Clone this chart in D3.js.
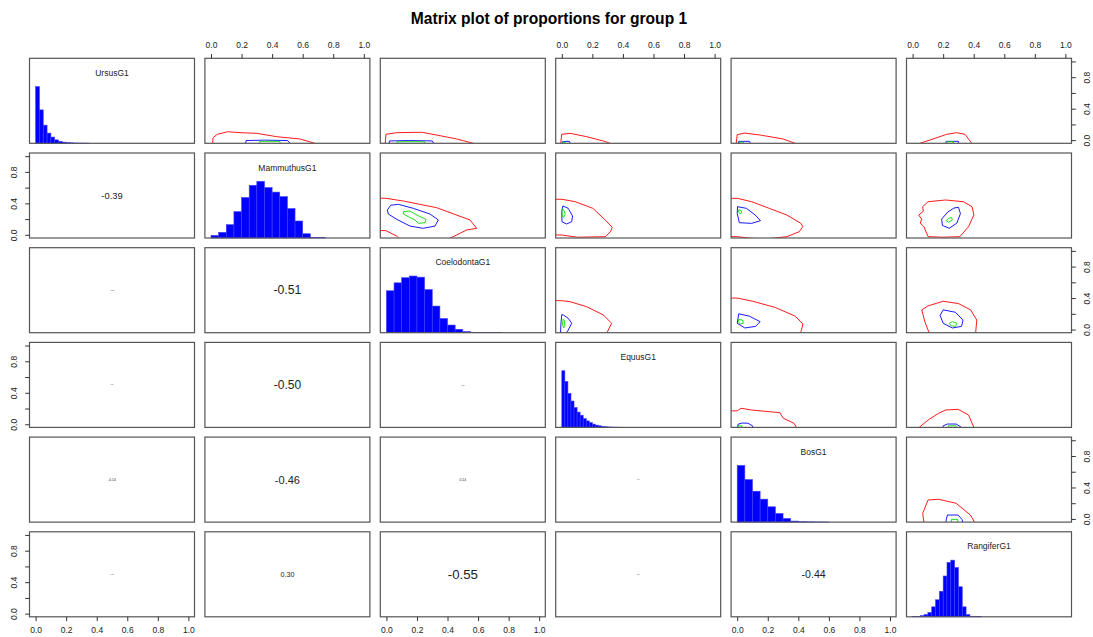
<!DOCTYPE html>
<html>
<head>
<meta charset="utf-8">
<script src="https://cdn.jsdelivr.net/npm/d3@7"></script>
<style>
  html, body { margin: 0; padding: 0; background: #fff; }
  svg { display: block; font-family: "Liberation Sans", Arial, sans-serif; }
</style>
</head>
<body>
<div id="chart"></div>
<script>
// ---- data ----
const title = "Matrix plot of proportions for group 1";
const variables = ["UrsusG1", "MammuthusG1", "CoelodontaG1", "EquusG1", "BosG1", "RangiferG1"];
const tickValues = [0, 0.2, 0.4, 0.6, 0.8, 1.0];
const yLabelValues = [0, 0.4, 0.8];

// histogram bin width and relative counts (count / max count), one per variable
const histBinWidth = [0.025, 0.05, 0.05, 0.02, 0.05, 0.025];
const histHeights = [
  [1.0, 0.59, 0.32, 0.18, 0.11, 0.06, 0.035, 0.02, 0.012, 0.008, 0.005, 0.004, 0.003, 0.002],
  [0.046, 0.1, 0.235, 0.465, 0.715, 0.93, 1.0, 0.89, 0.81, 0.73, 0.52, 0.3, 0.075, 0.012, 0.006],
  [0.74, 0.88, 0.97, 1.0, 0.98, 0.76, 0.47, 0.25, 0.135, 0.06, 0.02, 0.006, 0.004, 0.003, 0.002],
  [1.0, 0.81, 0.6, 0.465, 0.35, 0.27, 0.215, 0.155, 0.115, 0.085, 0.058, 0.04, 0.028, 0.018, 0.012, 0.008, 0.005, 0.004, 0.003, 0.002],
  [1.0, 0.75, 0.545, 0.405, 0.27, 0.153, 0.065, 0.018, 0.007, 0.004, 0.002, 0.001],
  [0.002, 0.004, 0.02, 0.04, 0.076, 0.176, 0.3, 0.45, 0.72, 0.96, 1.0, 0.87, 0.53, 0.176, 0.04, 0.01, 0.004, 0.002]
];

// lower panels: [row, col, correlation]
const correlations = [
  [1, 0, -0.39],
  [2, 0, -0.08], [2, 1, -0.51],
  [3, 0, 0.06], [3, 1, -0.50], [3, 2, 0.07],
  [4, 0, -0.14], [4, 1, -0.46], [4, 2, 0.14], [4, 3, 0.05],
  [5, 0, 0.07], [5, 1, 0.30], [5, 2, -0.55], [5, 3, 0.06], [5, 4, -0.44]
];

// upper panels: x = variable col, y = variable row
const upperPairs = [[0, 1], [0, 2], [0, 3], [0, 4], [0, 5], [1, 2], [1, 3], [1, 4], [1, 5], [2, 3], [2, 4], [2, 5], [3, 4], [3, 5], [4, 5]];

// density contours (outer / middle / inner), same order as upperPairs
const contourRed = [
  [[0.011, -0.1], [0.011, -0.04], [0.013, 0.03], [0.041, 0.074], [0.109, 0.107], [0.19, 0.095], [0.299, 0.087], [0.43, 0.044], [0.582, 0.015], [0.68, -0.04], [0.7, -0.1]],
  [[-0.01, -0.1], [-0.003, 0.074], [0.067, 0.095], [0.231, 0.1], [0.329, 0.065], [0.46, 0.015], [0.569, -0.04], [0.58, -0.1]],
  [[-0.01, -0.1], [-0.001, 0.074], [0.054, 0.087], [0.163, 0.044], [0.272, -0.011], [0.316, -0.04], [0.33, -0.1]],
  [[-0.01, -0.1], [0.0, 0.07], [0.05, 0.09], [0.15, 0.065], [0.3, 0.015], [0.38, -0.04], [0.39, -0.1]],
  [[0.04, -0.1], [0.048, -0.04], [0.114, 0.002], [0.223, 0.074], [0.289, 0.095], [0.343, 0.074], [0.371, 0.002], [0.387, -0.04], [0.39, -0.1]],
  [[-0.1, 0.47], [-0.003, 0.464], [0.111, 0.43], [0.329, 0.345], [0.547, 0.189], [0.591, 0.083], [0.525, 0.062], [0.46, -0.002], [0.351, -0.1], [0.111, -0.1], [0.067, -0.015], [-0.003, 0.053], [-0.1, 0.06]],
  [[-0.1, 0.452], [0.001, 0.452], [0.088, 0.421], [0.203, 0.337], [0.285, 0.188], [0.33, 0.096], [0.319, 0.04], [0.285, -0.023], [0.1, -0.03], [0.0, -0.002], [-0.1, 0.0]],
  [[-0.1, 0.464], [0.002, 0.464], [0.094, 0.421], [0.21, 0.337], [0.325, 0.252], [0.417, 0.146], [0.429, 0.104], [0.406, 0.04], [0.325, -0.023], [0.2, -0.05], [0.094, -0.044], [0.002, -0.023], [-0.1, -0.02]],
  [[0.066, 0.358], [0.101, 0.421], [0.216, 0.443], [0.332, 0.421], [0.389, 0.358], [0.401, 0.252], [0.366, 0.104], [0.309, -0.023], [0.2, -0.03], [0.101, -0.023], [0.075, 0.1], [0.05, 0.15], [0.06, 0.2], [0.04, 0.25], [0.07, 0.3]],
  [[-0.1, 0.367], [0.0, 0.367], [0.054, 0.354], [0.163, 0.29], [0.272, 0.185], [0.326, 0.08], [0.304, -0.006], [0.283, -0.1], [-0.1, -0.1]],
  [[-0.1, 0.4], [0.0, 0.4], [0.1, 0.36], [0.25, 0.28], [0.38, 0.17], [0.43, 0.07], [0.42, -0.01], [0.4, -0.1], [-0.1, -0.1]],
  [[0.06, 0.25], [0.1, 0.3], [0.2, 0.36], [0.3, 0.33], [0.38, 0.25], [0.42, 0.12], [0.41, -0.1], [0.12, -0.1], [0.08, 0.1]],
  [[-0.1, 0.17], [0.0, 0.17], [0.025, 0.203], [0.094, 0.181], [0.279, 0.147], [0.302, 0.076], [0.372, 0.012], [0.406, -0.1], [-0.1, -0.1]],
  [[0.04, -0.1], [0.043, -0.04], [0.101, 0.054], [0.17, 0.139], [0.216, 0.181], [0.297, 0.19], [0.366, 0.118], [0.401, -0.04], [0.41, -0.1]],
  [[0.078, -0.1], [0.066, 0.072], [0.101, 0.241], [0.17, 0.25], [0.285, 0.199], [0.378, 0.05], [0.424, -0.1]]
];
const contourBlue = [
  [[0.22, -0.1], [0.23, -0.005], [0.35, 0.0], [0.5, -0.005], [0.55, -0.1]],
  [[0.012, -0.1], [0.02, -0.01], [0.15, -0.005], [0.3, -0.01], [0.329, -0.1]],
  [[-0.001, -0.1], [0.005, -0.017], [0.05, -0.015], [0.065, -0.1]],
  [[0.0, -0.1], [0.01, -0.015], [0.08, -0.015], [0.1, -0.1]],
  [[0.212, -0.1], [0.22, -0.015], [0.3, -0.015], [0.306, -0.1]],
  [[0.006, 0.316], [0.028, 0.376], [0.078, 0.388], [0.176, 0.337], [0.285, 0.265], [0.34, 0.189], [0.318, 0.112], [0.241, 0.083], [0.154, 0.112], [0.067, 0.198], [0.012, 0.265]],
  [[0.007, 0.367], [0.042, 0.337], [0.07, 0.24], [0.065, 0.167], [0.031, 0.138], [0.001, 0.167], [0.0, 0.3]],
  [[0.002, 0.358], [0.06, 0.337], [0.118, 0.252], [0.152, 0.18], [0.094, 0.146], [0.014, 0.154], [0.0, 0.273]],
  [[0.3, 0.35], [0.313, 0.27], [0.29, 0.15], [0.24, 0.083], [0.195, 0.12], [0.19, 0.2], [0.23, 0.29], [0.27, 0.34]],
  [[0.0, 0.19], [0.01, 0.185], [0.042, 0.143], [0.065, 0.08], [0.042, -0.006], [0.01, -0.1], [-0.01, -0.1], [-0.005, 0.1]],
  [[0.01, 0.2], [0.08, 0.17], [0.15, 0.1], [0.12, 0.04], [0.05, 0.02], [0.0, 0.08]],
  [[0.2, 0.25], [0.28, 0.22], [0.33, 0.12], [0.32, 0.04], [0.26, 0.02], [0.2, 0.08], [0.18, 0.18]],
  [[0.0, -0.1], [0.005, 0.0], [0.03, 0.015], [0.07, 0.013], [0.1, -0.02], [0.105, -0.1]],
  [[0.193, -0.1], [0.2, -0.02], [0.228, 0.003], [0.285, 0.003], [0.32, -0.04], [0.325, -0.1]],
  [[0.216, -0.1], [0.22, -0.01], [0.228, 0.05], [0.297, 0.05], [0.325, -0.01], [0.332, -0.1]]
];
const contourGreen = [
  [[0.31, -0.1], [0.32, -0.015], [0.45, -0.015], [0.46, -0.1]],
  [[0.067, -0.1], [0.07, -0.02], [0.25, -0.02], [0.252, -0.1]],
  [[0.0, -0.1], [0.003, -0.025], [0.02, -0.025], [0.022, -0.1]],
  [[0.01, -0.1], [0.015, -0.025], [0.04, -0.025], [0.045, -0.1]],
  [[0.22, -0.1], [0.225, -0.02], [0.265, -0.02], [0.27, -0.1]],
  [[0.111, 0.294], [0.154, 0.303], [0.187, 0.265], [0.22, 0.231], [0.259, 0.198], [0.253, 0.154], [0.209, 0.147], [0.187, 0.189], [0.143, 0.231], [0.111, 0.265]],
  [[0.003, 0.33], [0.015, 0.31], [0.022, 0.26], [0.012, 0.22], [0.003, 0.24], [0.0, 0.29]],
  [[0.01, 0.32], [0.025, 0.31], [0.03, 0.28], [0.018, 0.27], [0.01, 0.29]],
  [[0.255, 0.22], [0.26, 0.19], [0.235, 0.16], [0.22, 0.18], [0.235, 0.21]],
  [[0.008, 0.13], [0.018, 0.11], [0.02, 0.04], [0.012, 0.02], [0.005, 0.06]],
  [[0.01, 0.13], [0.035, 0.12], [0.04, 0.08], [0.02, 0.07], [0.008, 0.1]],
  [[0.26, 0.1], [0.29, 0.08], [0.28, 0.04], [0.25, 0.05], [0.24, 0.08]],
  [[0.0, -0.1], [0.005, -0.02], [0.03, -0.02], [0.035, -0.1]],
  [[0.23, -0.1], [0.235, -0.02], [0.285, -0.02], [0.29, -0.1]],
  [[0.25, -0.1], [0.255, -0.005], [0.295, -0.005], [0.3, -0.1]]
];

// ---- layout ----
const width = 1093;
const height = 637;
const n = variables.length;
const panel = { left: 29.5, top: 58.3, w: 165, h: 85, stepX: 175.4, stepY: 94.7 };
const font = 8.5;
const textColor = "#222";

const svg = d3.select("#chart").append("svg")
  .attr("width", width)
  .attr("height", height)
  .attr("viewBox", [0, 0, width, height]);

svg.append("text")
  .attr("x", 549)
  .attr("y", 18)
  .attr("text-anchor", "middle")
  .attr("dominant-baseline", "central")
  .attr("font-weight", "bold")
  .attr("font-size", 15.6)
  .attr("fill", "#000")
  .text(title);

// scales shared by every panel (R pads the 0..1 range by 4%)
const x = d3.scaleLinear().domain([-0.04, 1.04]).range([0, panel.w]);
const y = d3.scaleLinear().domain([-0.04, 1.04]).range([panel.h, 0]);
const yHist = d3.scaleLinear().domain([0, 1.5]).range([panel.h, 0]);
const fmt = d3.format(".1f");

const cells = [];
for (let r = 0; r < n; r++) {
  for (let c = 0; c < n; c++) {
    const g = svg.append("g")
      .attr("transform", `translate(${panel.left + c * panel.stepX},${panel.top + r * panel.stepY})`);
    cells.push({ r, c, g });
  }
}
const cell = (r, c) => cells[r * n + c].g;

// clip rect for contours
svg.append("defs").append("clipPath").attr("id", "panel-clip")
  .append("rect").attr("width", panel.w).attr("height", panel.h);

// Diagonal: histograms + names
variables.forEach((name, k) => {
  const g = cell(k, k);
  const bw = histBinWidth[k];
  g.selectAll("rect.bar")
    .data(histHeights[k])
    .join("rect")
    .attr("class", "bar")
    .attr("x", (d, i) => x(i * bw))
    .attr("width", (d, i) => x((i + 1) * bw) - x(i * bw))
    .attr("y", (d) => yHist(d))
    .attr("height", (d) => yHist(0) - yHist(d))
    .attr("fill", "#0000ff")
    .attr("stroke", "#4040ff")
    .attr("stroke-width", 0.6);

  g.append("text")
    .attr("x", x(0.5))
    .attr("y", 14.5)
    .attr("text-anchor", "middle")
    .attr("dominant-baseline", "central")
    .attr("font-size", font)
    .attr("fill", textColor)
    .text(name);
});

// Lower: correlation text sized by |r|
correlations.forEach(([r, c, v]) => {
  cell(r, c).append("text")
    .attr("x", x(0.5))
    .attr("y", y(0.5))
    .attr("text-anchor", "middle")
    .attr("dominant-baseline", "central")
    .attr("font-size", 24 * Math.abs(v))
    .attr("fill", textColor)
    .text(v.toFixed(2));
});

// Upper: contours
const line = d3.line()
  .x((d) => x(d[0]))
  .y((d) => y(d[1]))
  .curve(d3.curveLinearClosed);

upperPairs.forEach(([r, c], i) => {
  const g = cell(r, c).append("g").attr("clip-path", "url(#panel-clip)");
  [[contourRed[i], "#ff0000"], [contourBlue[i], "#0000ff"], [contourGreen[i], "#00dd00"]].forEach(([pts, col]) => {
    g.append("path")
      .attr("d", line(pts))
      .attr("fill", "none")
      .attr("stroke", col)
      .attr("stroke-width", 0.9)
      .attr("stroke-linejoin", "round");
  });
});

// Panel borders
cells.forEach(({ g }) => {
  g.append("rect")
    .attr("width", panel.w)
    .attr("height", panel.h)
    .attr("fill", "none")
    .attr("stroke", "#555")
    .attr("stroke-width", 1.2);
});

// Axes, alternating like R's pairs()
function styleAxis(sel) {
  sel.select(".domain").remove();
  sel.selectAll(".tick line").attr("stroke", "#333");
  sel.selectAll("text").attr("fill", textColor).style("font-size", `${font}px`)
    .style("font-family", '"Liberation Sans", Arial, sans-serif');
}

const yFormat = (d) => yLabelValues.some((v) => Math.abs(v - d) < 1e-9) ? fmt(d) : "";

for (let k = 0; k < n; k++) {
  if (k % 2 === 1) {
    cell(0, k).append("g")
      .call(d3.axisTop(x).tickValues(tickValues).tickFormat(fmt).tickSize(4.3).tickPadding(6.5))
      .call(styleAxis);
  } else {
    cell(n - 1, k).append("g")
      .attr("transform", `translate(0,${panel.h})`)
      .call(d3.axisBottom(x).tickValues(tickValues).tickFormat(fmt).tickSize(4.3).tickPadding(5.5))
      .call(styleAxis);
  }
  if (k % 2 === 1) {
    cell(k, 0).append("g")
      .call(d3.axisLeft(y).tickValues(tickValues).tickFormat(yFormat).tickSize(4.3))
      .call(styleAxis)
      .call((a) => a.selectAll(".tick text")
        .attr("x", null).attr("dy", null)
        .attr("text-anchor", "middle")
        .attr("dominant-baseline", "central")
        .attr("transform", "translate(-15.5,0) rotate(-90)"));
  } else {
    cell(k, n - 1).append("g")
      .attr("transform", `translate(${panel.w},0)`)
      .call(d3.axisRight(y).tickValues(tickValues).tickFormat(yFormat).tickSize(4.3))
      .call(styleAxis)
      .call((a) => a.selectAll(".tick text")
        .attr("x", null).attr("dy", null)
        .attr("text-anchor", "middle")
        .attr("dominant-baseline", "central")
        .attr("transform", "translate(15.5,0) rotate(-90)"));
  }
}
</script>
</body>
</html>
